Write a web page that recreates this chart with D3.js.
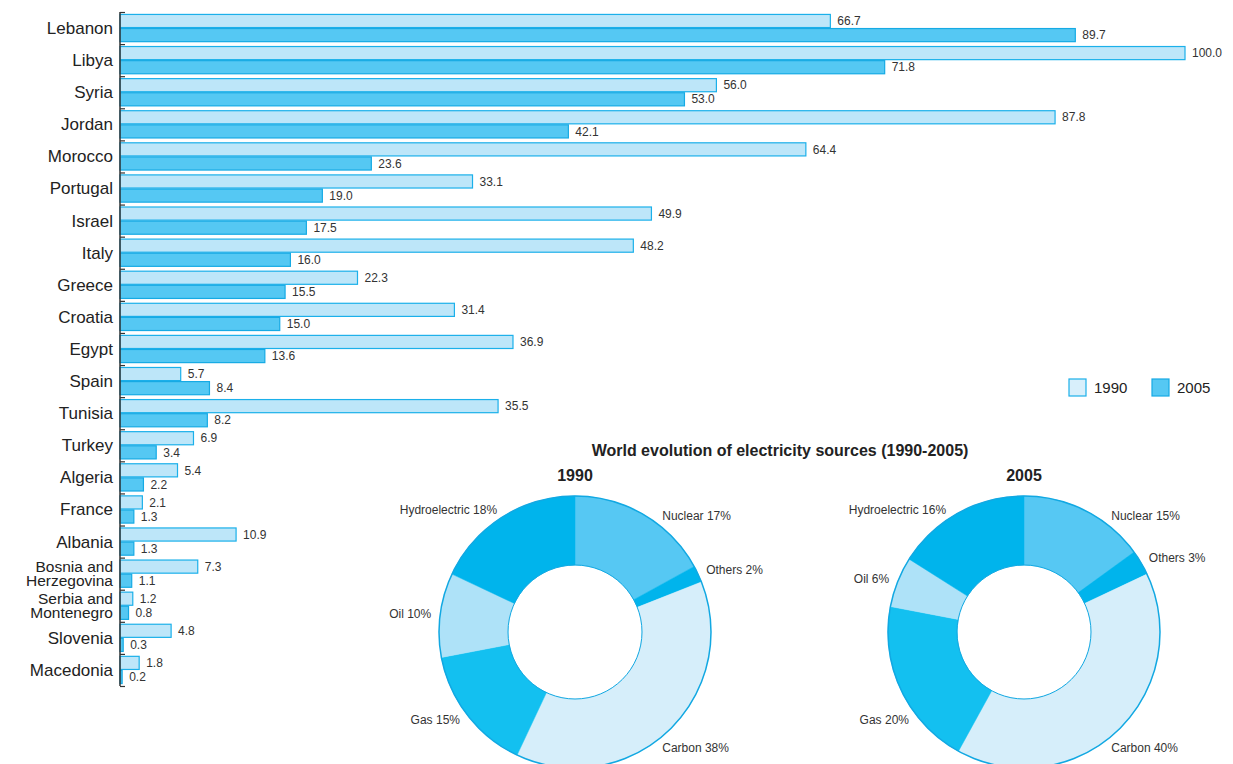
<!DOCTYPE html>
<html>
<head>
<meta charset="utf-8">
<script src="https://cdn.jsdelivr.net/npm/d3@7"></script>
<style>
  body { margin: 0; background: #fff; }
  svg { font-family: "Liberation Sans", Arial, sans-serif; }
</style>
</head>
<body>
<svg width="1233" height="764"></svg>
<script>
// bar chart data
var countries = ["Lebanon", "Libya", "Syria", "Jordan", "Morocco", "Portugal", "Israel", "Italy", "Greece", "Croatia",
  "Egypt", "Spain", "Tunisia", "Turkey", "Algeria", "France", "Albania", "Bosnia and|Herzegovina",
  "Serbia and|Montenegro", "Slovenia", "Macedonia"];
var values1990 = [66.7, 100.0, 56.0, 87.8, 64.4, 33.1, 49.9, 48.2, 22.3, 31.4, 36.9, 5.7, 35.5, 6.9, 5.4, 2.1, 10.9, 7.3, 1.2, 4.8, 1.8];
var values2005 = [89.7, 71.8, 53.0, 42.1, 23.6, 19.0, 17.5, 16.0, 15.5, 15.0, 13.6, 8.4, 8.2, 3.4, 2.2, 1.3, 1.3, 1.1, 0.8, 0.3, 0.2];
var seriesKeys = ["1990", "2005"];

// donut data
var sources = ["Nuclear", "Others", "Carbon", "Gas", "Oil", "Hydroelectric"];
var share1990 = [17, 2, 38, 15, 10, 18];
var share2005 = [15, 3, 40, 20, 6, 16];

var svg = d3.select("svg");

var x = d3.scaleLinear().domain([0, 100]).range([120, 1185]);

var y0 = d3.scaleBand()
  .domain(countries)
  .range([12, 686])
  .paddingInner(0.12)
  .paddingOuter(0.06);

var y1 = d3.scaleBand()
  .domain(seriesKeys)
  .range([0, y0.bandwidth()]);

var fill = { "1990": "#bde6f9", "2005": "#55c8f3" };
var stroke = { "1990": "#1bb0ea", "2005": "#16aae4" };

var rows = countries.map(function(c, i) {
  return { name: c, vals: [{ key: "1990", value: values1990[i] }, { key: "2005", value: values2005[i] }] };
});

var g = svg.append("g");

var row = g.selectAll("g.row")
  .data(rows)
  .enter().append("g")
    .attr("class", "row")
    .attr("transform", function(d) { return "translate(0," + y0(d.name) + ")"; });

row.selectAll("rect")
  .data(function(d) { return d.vals; })
  .enter().append("rect")
    .attr("x", x(0))
    .attr("y", function(d) { return y1(d.key) + 0.5; })
    .attr("width", function(d) { return x(d.value) - x(0); })
    .attr("height", y1.bandwidth() - 1)
    .attr("fill", function(d) { return fill[d.key]; })
    .attr("stroke", function(d) { return stroke[d.key]; })
    .attr("stroke-width", 1.2);

row.selectAll("text.val")
  .data(function(d) { return d.vals; })
  .enter().append("text")
    .attr("class", "val")
    .attr("x", function(d) { return x(d.value) + 7; })
    .attr("y", function(d) { return y1(d.key) + y1.bandwidth() / 2; })
    .attr("dy", "0.35em")
    .attr("font-size", 12)
    .attr("fill", "#333")
    .text(function(d) { return d.value.toFixed(1); });

// category labels (two-line names are set a little smaller and tighter)
row.append("text")
  .attr("x", 113)
  .attr("y", y0.bandwidth() / 2)
  .attr("text-anchor", "end")
  .attr("fill", "#222")
  .each(function(d) {
    var parts = d.name.split("|");
    var t = d3.select(this).attr("font-size", parts.length > 1 ? 15.5 : 17);
    parts.forEach(function(p, k) {
      t.append("tspan")
        .attr("x", 113)
        .attr("dy", k === 0 ? (parts.length === 1 ? "0.35em" : "-0.1em") : "0.9em")
        .text(p);
    });
  });

// axis with ticks at band boundaries
var tickScale = d3.scaleLinear().domain([0, countries.length]).range(y0.range());
svg.append("g")
  .attr("transform", "translate(" + x(0) + ",0)")
  .call(d3.axisRight(tickScale).tickValues(d3.range(countries.length + 1)).tickSize(5).tickFormat(""))
  .call(function(a) {
    a.select(".domain").attr("stroke", "#333").attr("stroke-width", 1.5).attr("d", "M0," + y0.range()[0] + "V" + y0.range()[1]);
    a.selectAll(".tick line").attr("stroke", "#333").attr("stroke-width", 1.2);
  });

// legend
var legendFill = { "1990": "#d8effb", "2005": "#55c8f3" };
var legend = svg.append("g")
  .selectAll("g")
  .data(seriesKeys)
  .enter().append("g")
    .attr("transform", function(d, i) { return "translate(" + (1069 + i * 83) + ",379)"; });
legend.append("rect")
  .attr("width", 17)
  .attr("height", 17)
  .attr("fill", function(d) { return legendFill[d]; })
  .attr("stroke", function(d) { return stroke[d]; })
  .attr("stroke-width", 1.2);
legend.append("text")
  .attr("x", 25)
  .attr("y", 9)
  .attr("dy", "0.35em")
  .attr("font-size", 15)
  .attr("fill", "#222")
  .text(function(d) { return d; });

// donuts
svg.append("text")
  .attr("x", 780)
  .attr("y", 450)
  .attr("dy", "0.35em")
  .attr("text-anchor", "middle")
  .attr("font-size", 16)
  .attr("font-weight", "bold")
  .attr("fill", "#222")
  .text("World evolution of electricity sources (1990-2005)");

var sliceColor = d3.scaleOrdinal()
  .domain(sources)
  .range(["#56c8f3", "#00b4ec", "#d6eefa", "#13c0f0", "#aee2f8", "#00b4ec"]);

// label placement: the large slices keep a fixed spot round the ring, small ones follow their centroid
var labelAngle = { "Nuclear": 37, "Carbon": 143, "Gas": 232.5, "Hydroelectric": 327.5 };
var labelR = 145;

var outerR = 136, innerR = 67;
var pie = d3.pie().sort(null).value(function(d) { return d.value; });
var arc = d3.arc().innerRadius(innerR).outerRadius(outerR);

function labelPos(d) {
  var a = labelAngle[d.data.name] != null ? labelAngle[d.data.name] * Math.PI / 180 : (d.startAngle + d.endAngle) / 2;
  return [Math.sin(a) * labelR, -Math.cos(a) * labelR, a];
}

function donut(cx, title, shares) {
  var cy = 632;
  var dg = svg.append("g").attr("transform", "translate(" + cx + "," + cy + ")");
  var data = sources.map(function(s, i) { return { name: s, value: shares[i] }; });
  var arcs = pie(data);

  svg.append("text")
    .attr("x", cx)
    .attr("y", 475)
    .attr("dy", "0.35em")
    .attr("text-anchor", "middle")
    .attr("font-size", 16)
    .attr("font-weight", "bold")
    .attr("fill", "#222")
    .text(title);

  dg.selectAll("path")
    .data(arcs)
    .enter().append("path")
      .attr("d", arc)
      .attr("fill", function(d) { return sliceColor(d.data.name); })
      .attr("stroke", function(d) { return sliceColor(d.data.name); })
      .attr("stroke-width", 0.5);

  dg.append("circle").attr("r", outerR).attr("fill", "none").attr("stroke", "#12a8e2").attr("stroke-width", 1.5);
  dg.append("circle").attr("r", innerR).attr("fill", "none").attr("stroke", "#12a8e2").attr("stroke-width", 1);

  dg.selectAll("text")
    .data(arcs)
    .enter().append("text")
      .attr("x", function(d) { return labelPos(d)[0]; })
      .attr("y", function(d) { return labelPos(d)[1]; })
      .attr("text-anchor", function(d) { return labelPos(d)[2] < Math.PI ? "start" : "end"; })
      .attr("dy", "0.35em")
      .attr("font-size", 12)
      .attr("fill", "#333")
      .text(function(d) { return d.data.name + " " + d.data.value + "%"; });
}

donut(575, "1990", share1990);
donut(1024, "2005", share2005);
</script>
</body>
</html>
